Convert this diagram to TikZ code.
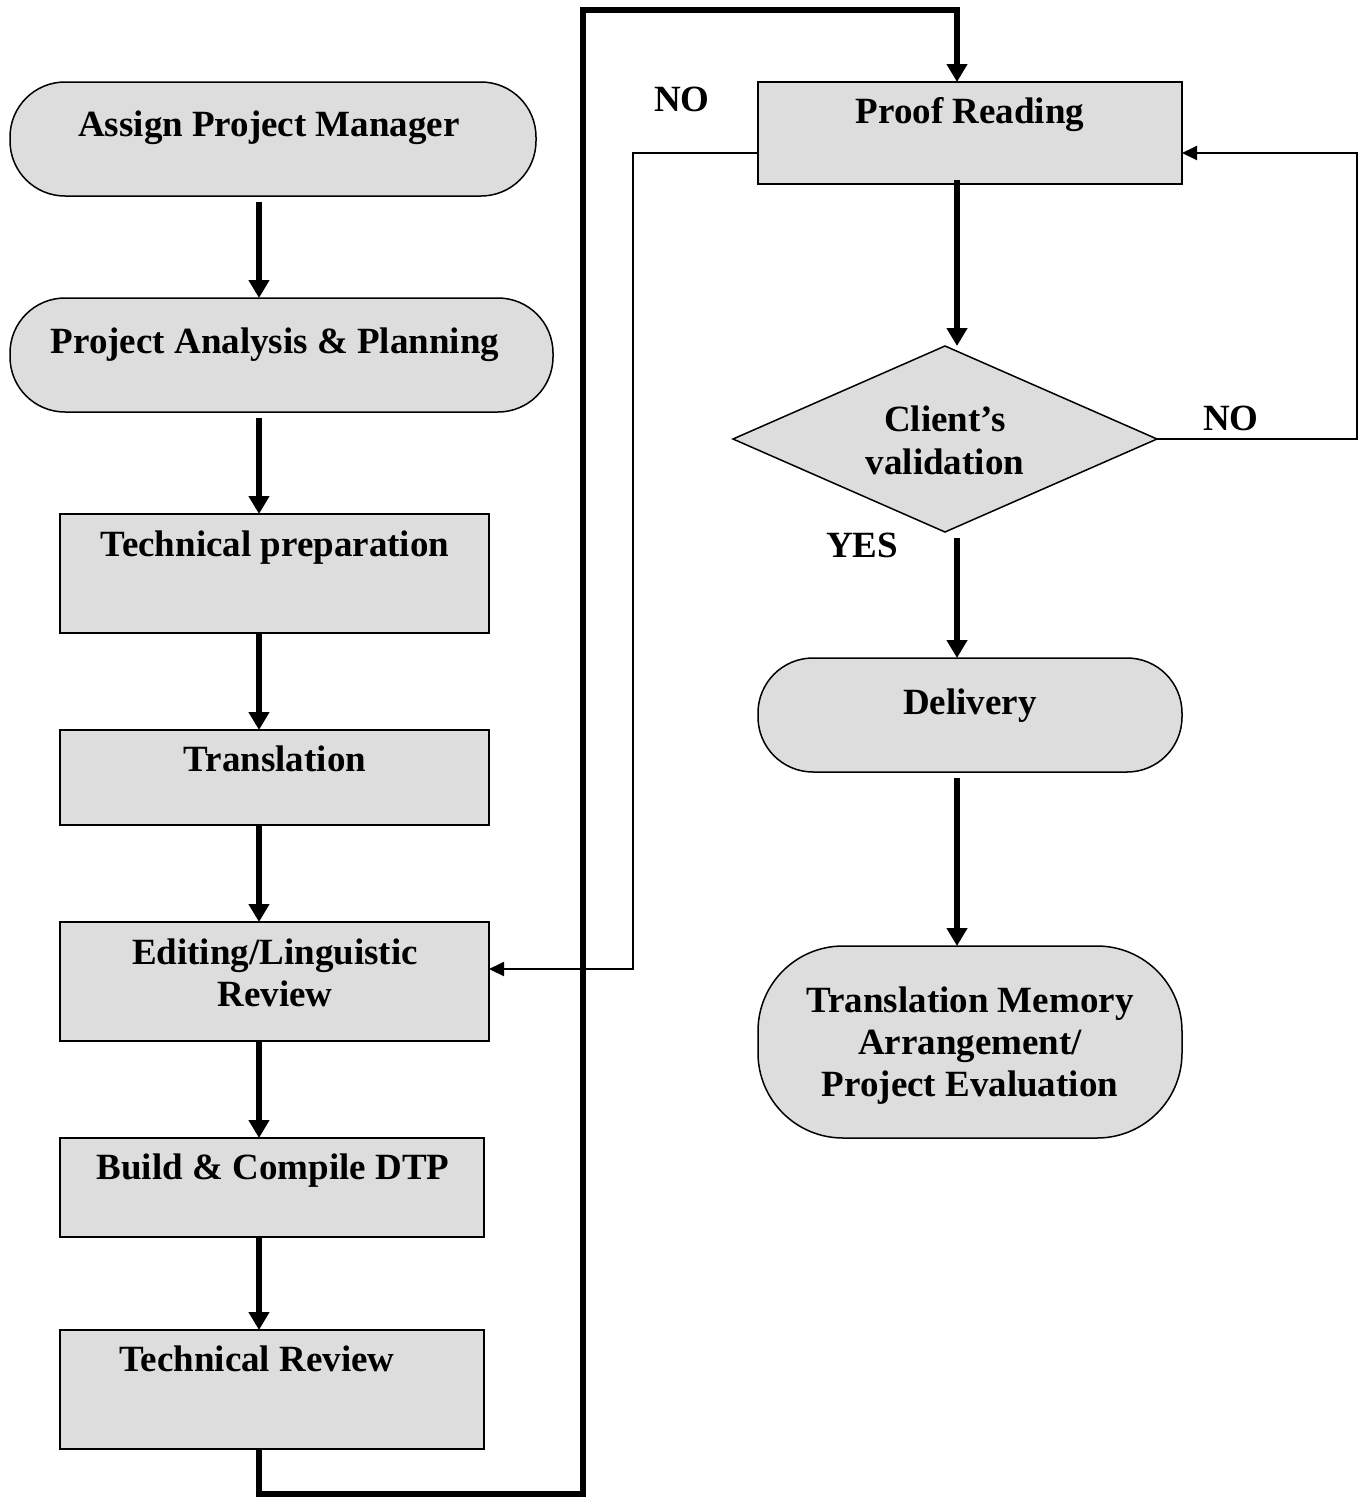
\documentclass[tikz,border=0pt]{standalone}
\usepackage{fontspec}
\setmainfont{Liberation Serif}
\usetikzlibrary{shapes.geometric,arrows.meta}
\definecolor{boxgray}{RGB}{221,221,221}
\begin{document}
\begin{tikzpicture}[x=1pt,y=-1pt,
  shapebox/.style={draw=black, line width=1.5pt, fill=boxgray, inner sep=0pt, outer sep=0pt},
  rbox/.style={shapebox, rectangle},
  stad/.style={shapebox, rectangle, rounded corners=55pt},
  dia/.style={shapebox, diamond},
  txt/.style={font=\fontsize{37}{42}\selectfont\bfseries, anchor=base, inner sep=0pt, align=center},
  thickarrow/.style={line width=5.5pt, -{Triangle[length=18pt,width=20pt]}, line join=miter},
  thinarrow/.style={line width=2pt, -{Triangle[length=15pt,width=14pt]}, line join=miter}
]
\useasboundingbox (0,0) rectangle (1363,1497);
\fill[white] (0,0) rectangle (1363,1497);

% left column
\node[stad, minimum width=526pt, minimum height=114pt] (apm) at (273,139) {};
\node[txt] (apmt) at (269,136) {Assign Project Manager};
\node[stad, minimum width=543pt, minimum height=114pt] (pap) at (281.5,355) {};
\node[txt] (papt) at (275,353) {Project Analysis \& Planning};
\node[rbox, minimum width=429pt, minimum height=119pt] (tp) at (274.5,573.5) {};
\node[txt] (tpt) at (275,556) {Technical preparation};
\node[rbox, minimum width=429pt, minimum height=95pt] (tr) at (274.5,777.5) {};
\node[txt] (trt) at (275,771) {Translation};
\node[rbox, minimum width=429pt, minimum height=119pt] (ed) at (274.5,981.5) {};
\node[txt] (edt) at (275,964) {Editing/Linguistic};
\node[txt] (edt2) at (275,1006) {Review};
\node[rbox, minimum width=424pt, minimum height=99pt] (bc) at (272,1187.5) {};
\node[txt] (bct) at (273,1179) {Build \& Compile DTP};
\node[rbox, minimum width=424pt, minimum height=119pt] (trv) at (272,1389.5) {};
\node[txt] (trvt) at (257,1371) {Technical Review};

% right column
\node[rbox, minimum width=424pt, minimum height=102pt] (pr) at (970,133) {};
\node[txt] (prt) at (970,123) {Proof Reading};
\node[dia, minimum width=424pt, minimum height=186pt] (cv) at (945,439) {};
\node[txt] (cvt) at (945,431) {Client’s};
\node[txt] (cvt2) at (945,474) {validation};
\node[stad, minimum width=424pt, minimum height=114pt] (del) at (970,715) {};
\node[txt] (delt) at (970,714) {Delivery};
\node[shapebox, rectangle, rounded corners=85pt, minimum width=424pt, minimum height=192pt] (tm) at (970,1042) {};
\node[txt] (tmt1) at (970,1012) {Translation Memory};
\node[txt] (tmt2) at (970,1054) {Arrangement/};
\node[txt] (tmt3) at (970,1096) {Project Evaluation};

% labels
\node[txt] (no1) at (682,111) {NO};
\node[txt] (no2) at (1231,430) {NO};
\node[txt] (yes) at (862,557) {YES};

% columns and corners
\coordinate (colL) at (259,0);
\coordinate (colR) at (957,0);
\coordinate (b1) at (259,1494);
\coordinate (b2) at (583,1494);
\coordinate (b3) at (583,10);
\coordinate (b4) at (957,10);
\coordinate (n1) at (633,153);
\coordinate (n2) at (633,969);
\coordinate (r1) at (1357,439);
\coordinate (r2) at (1357,153);

% left column arrows
\draw[thickarrow, shorten <=6pt] (apm.south -| colL) -- (pap.north -| colL);
\draw[thickarrow, shorten <=6pt] (pap.south -| colL) -- (tp.north -| colL);
\draw[thickarrow] (tp.south -| colL) -- (tr.north -| colL);
\draw[thickarrow] (tr.south -| colL) -- (ed.north -| colL);
\draw[thickarrow] (ed.south -| colL) -- (bc.north -| colL);
\draw[thickarrow] (bc.south -| colL) -- (trv.north -| colL);

% big loop to proof reading
\draw[thickarrow] (trv.south -| colL) -- (b1) -- (b2) -- (b3) -- (b4) -- (pr.north -| colR);

% NO loop back to editing
\draw[thinarrow] (pr.west |- n1) -- (n1) -- (n2) -- (ed.east |- n2);

% right column arrows
\draw[thickarrow, shorten <=-4pt] (pr.south -| colR) -- (cv.north -| colR);
\draw[thickarrow, shorten <=6pt] (cv.south -| colR) -- (del.north -| colR);
\draw[thickarrow, shorten <=6pt] (del.south -| colR) -- (tm.north -| colR);

% NO loop back to proof reading
\draw[thinarrow] (cv.east) -- (r1) -- (r2) -- (pr.east |- r2);
\end{tikzpicture}
\end{document}
